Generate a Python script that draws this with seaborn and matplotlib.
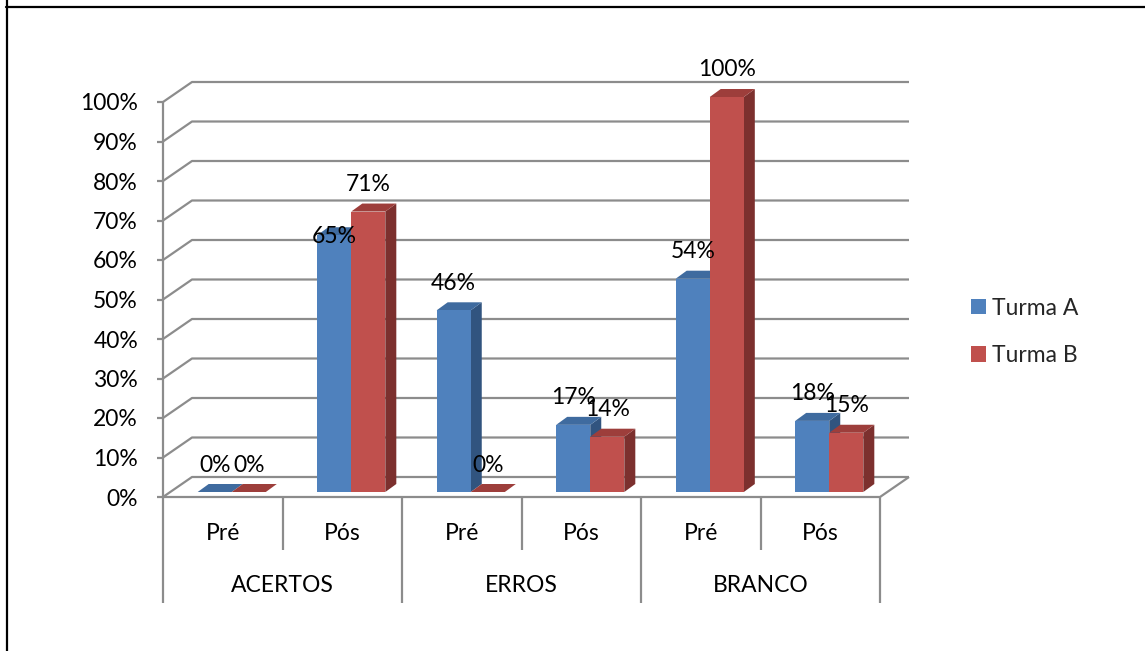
import matplotlib
matplotlib.use("Agg")
import matplotlib.pyplot as plt
from matplotlib.lines import Line2D
from matplotlib.patches import Patch, Polygon
import pandas as pd
import seaborn as sns

# ---- data -------------------------------------------------------------
grupos = ["ACERTOS", "ERROS", "BRANCO"]
momentos = ["Pré", "Pós"]
turmas = ["Turma A", "Turma B"]
turma_a = [0, 65, 46, 17, 54, 18]
turma_b = [0, 71, 0, 14, 100, 15]
y_ticks = [0, 10, 20, 30, 40, 50, 60, 70, 80, 90, 100]

# ---- style ------------------------------------------------------------
cores_frente = ["#4F81BD", "#C0504D"]
cores_topo = ["#3F6B9F", "#9D3E3B"]
cores_lado = ["#31547F", "#7C302E"]
cor_grade = "#8C8C8C"
FS = 16.5

sns.set_theme(style="white")
plt.rcParams["font.family"] = ["Lato", "DejaVu Sans"]

W, H = 1145, 651
fig = plt.figure(figsize=(W / 100, H / 100), dpi=100)

# 3-D look: pixel sizes of one category / one percent and the depth offsets
PX_CAT, PX_PCT = 119.5, 3.95
ox, oy = 9 / PX_CAT, 5 / PX_PCT        # frame front -> bar front plane
wx, wy = 29 / PX_CAT, 20 / PX_PCT      # depth of floor / back wall
bx, by = 11 / PX_CAT, 8 / PX_PCT       # depth of each bar

left_px, right_px, bottom_px, top_px = 163, 912, 497, 50
xmin = -0.5 - ox
xmax = xmin + (right_px - left_px) / PX_CAT
ymin = -oy
ymax = ymin + (bottom_px - top_px) / PX_PCT
ax = fig.add_axes([left_px / W, 1 - bottom_px / H,
                   (right_px - left_px) / W, (bottom_px - top_px) / H])

rotulos = [f"{g} {m}" for g in grupos for m in momentos]
df = pd.DataFrame({
    "categoria": rotulos * 2,
    "turma": [turmas[0]] * len(rotulos) + [turmas[1]] * len(rotulos),
    "valor": turma_a + turma_b,
})
sns.barplot(data=df, x="categoria", y="valor", hue="turma", order=rotulos,
            hue_order=turmas, palette=cores_frente, saturation=1, width=0.57,
            gap=0, legend=False, errorbar=None, linewidth=0, ax=ax)
ax.set_xlim(xmin, xmax)
ax.set_ylim(ymin, ymax)
ax.set_axis_off()

# ---- frame: walls, floor, gridlines ----------------------------------
fx0 = -0.5 - ox
fx1 = len(rotulos) - 0.5 - ox
lk = dict(color=cor_grade, lw=1.6, solid_capstyle="butt", clip_on=False)
for t in y_ticks:
    yf = t - oy
    ax.plot([fx0, fx0 + wx, fx1 + wx], [yf, yf + wy, yf + wy], zorder=1, **lk)
    ax.plot([fx0 - 6 / PX_CAT, fx0], [yf, yf], zorder=1, **lk)
    ax.text(fx0 - 25 / PX_CAT, yf - 2 / PX_PCT, f"{t}%", ha="right",
            va="center", fontsize=FS, color="black")
ax.plot([fx0, fx0], [-oy, y_ticks[-1] - oy], zorder=1, **lk)
ax.plot([fx0, fx1, fx1 + wx], [-oy, -oy, -oy + wy], zorder=1, **lk)

# category separators and two-level axis labels
for k in range(len(rotulos) + 1):
    comp = 106 if k % 2 == 0 else 53
    ax.plot([fx0 + k, fx0 + k], [-oy, -oy - comp / PX_PCT], zorder=1, **lk)
for i, r in enumerate(rotulos):
    ax.text(i - ox, -oy - 37 / PX_PCT, momentos[i % 2], ha="center",
            va="center", fontsize=FS, color="black")
for g, nome in enumerate(grupos):
    ax.text(2 * g + 0.5 - ox, -oy - 88 / PX_PCT, nome, ha="center",
            va="center", fontsize=FS, color="black")

# ---- bar tops, sides and value labels ---------------------------------
label_gap_px = {(0, 1): -1.5}
for h_i, cont in enumerate(ax.containers):
    for c_i, bar in enumerate(cont):
        bar.set_zorder(3)
        x0, w, h = bar.get_x(), bar.get_width(), bar.get_height()
        topo = [(x0, h), (x0 + w, h), (x0 + w + bx, h + by), (x0 + bx, h + by)]
        lado = [(x0 + w, 0), (x0 + w + bx, by), (x0 + w + bx, h + by), (x0 + w, h)]
        ax.add_patch(Polygon(lado, closed=True, fc=cores_lado[h_i], lw=0, zorder=2))
        ax.add_patch(Polygon(topo, closed=True, fc=cores_topo[h_i], lw=0, zorder=2))
        gap = label_gap_px.get((h_i, c_i), 27)
        ax.text(x0 + w / 2, h + gap / PX_PCT, f"{h:.0f}%", ha="center",
                va="center", fontsize=FS, color="black", zorder=5)

# ---- legend -----------------------------------------------------------
handles = [Patch(facecolor=c, edgecolor="none") for c in cores_frente]
fig.legend(handles, turmas, loc="center left",
           bbox_to_anchor=(971 / W, 1 - 332 / H), frameon=False, fontsize=FS,
           handlelength=0.65, handleheight=0.65, handletextpad=0.25,
           labelspacing=1.15, borderaxespad=0, borderpad=0)

# ---- outer box --------------------------------------------------------
fig.add_artist(Line2D([6 / W, 1], [1 - 7 / H, 1 - 7 / H], color="black", lw=1.6))
fig.add_artist(Line2D([7 / W, 7 / W], [0, 1], color="black", lw=1.6))

fig.savefig("out.png", dpi=100)
